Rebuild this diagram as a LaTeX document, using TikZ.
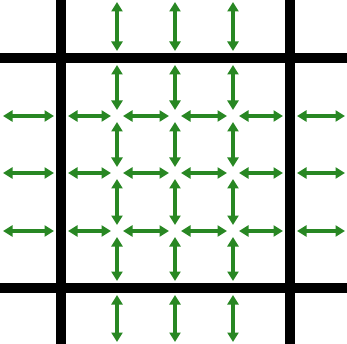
\documentclass[tikz,border=0pt]{standalone}
\usetikzlibrary{arrows.meta}
\definecolor{arrowgreen}{RGB}{40,135,35}
\tikzset{
  gridline/.style={line width=9.5pt, black},
  flow/.style={line width=3.5pt, arrowgreen, {Triangle[length=9.5pt,width=11pt]}-{Triangle[length=9.5pt,width=11pt]}}
}
\begin{document}
\begin{tikzpicture}[x=1pt,y=-1pt]
\useasboundingbox (0,0) rectangle (347,344);
% black lines
\coordinate (vL0) at (61,0); \coordinate (vL1) at (61,344);
\coordinate (vR0) at (290,0); \coordinate (vR1) at (290,344);
\coordinate (hT0) at (0,58); \coordinate (hT1) at (347,58);
\coordinate (hB0) at (0,288); \coordinate (hB1) at (347,288);
% vertical arrows
\foreach \x in {117,175,233}{
  \foreach \a/\b/\sa/\sb in {2/58/0/7, 58/116/7/6, 116/173/6/6, 173/231/6/6, 231/288/6/7, 288/342/7/0}{
    \coordinate (p1) at (\x,\a); \coordinate (p2) at (\x,\b);
    \draw[flow, shorten <=\sa pt, shorten >=\sb pt] (p1) -- (p2);
  }
}
% horizontal arrows
\foreach \y in {116,173,231}{
  \foreach \a/\b/\sa/\sb in {3/61/0/7, 61/117/7/6, 117/175/6/6, 175/233/6/6, 233/290/6/7, 290/345/7/0}{
    \coordinate (p1) at (\a,\y); \coordinate (p2) at (\b,\y);
    \draw[flow, shorten <=\sa pt, shorten >=\sb pt] (p1) -- (p2);
  }
}
\draw[gridline] (vL0) -- (vL1);
\draw[gridline] (vR0) -- (vR1);
\draw[gridline] (hT0) -- (hT1);
\draw[gridline] (hB0) -- (hB1);
\end{tikzpicture}
\end{document}
